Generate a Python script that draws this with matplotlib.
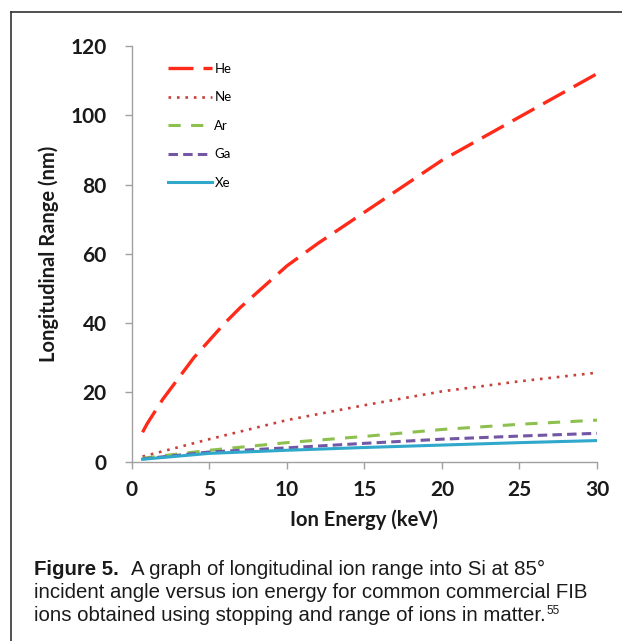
import matplotlib
matplotlib.use("Agg")
import matplotlib.pyplot as plt
from matplotlib.lines import Line2D

# Data
he_x = [0.7, 1, 2, 3, 4, 5, 6, 7, 8, 9, 10, 12, 14, 16, 18, 20, 22, 24, 26, 28, 30]
he_y = [8.5, 11, 18, 24, 30, 35, 40, 44.5, 48.5, 52.5, 56.5, 63, 69, 75, 81, 87, 92, 97, 102, 107, 112]
ne_x = [0.7, 2, 5, 10, 15, 20, 25, 30]
ne_y = [1.5, 3.0, 6.5, 12.0, 16.3, 20.3, 23.2, 25.7]
ar_x = [0.7, 5, 10, 15, 20, 25, 30]
ar_y = [1.0, 3.3, 5.5, 7.3, 9.3, 10.8, 12.0]
ga_x = [0.7, 5, 10, 15, 20, 25, 30]
ga_y = [0.8, 2.8, 4.0, 5.3, 6.5, 7.4, 8.2]
xe_x = [0.7, 5, 10, 15, 20, 25, 30]
xe_y = [0.7, 2.4, 3.3, 4.1, 4.8, 5.5, 6.1]
labels = ["He", "Ne", "Ar", "Ga", "Xe"]
x_ticks = [0, 5, 10, 15, 20, 25, 30]
y_ticks = [0, 20, 40, 60, 80, 100, 120]

W, H = 622, 641
fig = plt.figure(figsize=(W / 100, H / 100), dpi=100)
ax = fig.add_axes([131.7 / W, 1 - 461.7 / H, (597 - 131.7) / W, (461.7 - 46) / H])

ax.plot(he_x, he_y, color="#ff2a1a", lw=2.4, dashes=(7.5, 3), label=labels[0])
ax.plot(ne_x, ne_y, color="#c8403a", lw=1.9, dashes=(1, 2.2), label=labels[1])
ax.plot(ar_x, ar_y, color="#8dc04f", lw=2.2, dashes=(4, 3.4), label=labels[2])
ax.plot(ga_x, ga_y, color="#7357a4", lw=2.2, dashes=(3.1, 1.7), label=labels[3])
ax.plot(xe_x, xe_y, color="#2fa8cc", lw=2.2, label=labels[4])

ax.set_xlim(0, 30)
ax.set_ylim(0, 120)
ax.set_xticks(x_ticks)
ax.set_yticks(y_ticks)
for s in ["top", "right"]:
    ax.spines[s].set_visible(False)
for s in ["left", "bottom"]:
    ax.spines[s].set_color("#a0a0a0")
    ax.spines[s].set_linewidth(1.0)
ax.tick_params(axis="both", colors="#a0a0a0", length=5, width=1.0, labelcolor="#1a1a1a",
               labelsize=15)
ax.tick_params(axis="y", pad=13)
ax.tick_params(axis="x", pad=8)
for lab in ax.get_xticklabels() + ax.get_yticklabels():
    lab.set_fontweight("bold")
    lab.set_family("Lato")

ax.set_xlabel("Ion Energy (keV)", fontsize=14.5, fontweight="bold", family="Lato",
              color="#1a1a1a", labelpad=7)
ax.set_ylabel("Longitudinal Range (nm)", fontsize=14.5, fontweight="bold", family="Lato",
              color="#1a1a1a", labelpad=8)

leg = ax.legend(loc="upper left", bbox_to_anchor=(0.053, 0.988), frameon=False,
                handlelength=3.3, labelspacing=1.25, handletextpad=0.2,
                prop={"family": "Lato", "size": 9.5})

# Frame lines of the figure box
fig.add_artist(Line2D([11 / W, 1.0], [1 - 12 / H, 1 - 12 / H], color="#333333", lw=1.2))
fig.add_artist(Line2D([11 / W, 11 / W], [0, 1 - 12 / H], color="#333333", lw=1.2))

# Caption
cap_fs = 14.7
fam = "Liberation Sans"
x0 = 34 / W
baselines = [575, 598, 621]
fig.canvas.draw()
r = fig.canvas.get_renderer()
t1 = fig.text(x0, 1 - baselines[0] / H, "Figure 5.", fontsize=cap_fs, fontweight="bold",
              family=fam, va="baseline", color="#1a1a1a")
bb = t1.get_window_extent(r)
fig.text(bb.x1 / W + 12 / W, 1 - baselines[0] / H,
         "A graph of longitudinal ion range into Si at 85°",
         fontsize=cap_fs, family=fam, va="baseline", color="#1a1a1a")
fig.text(x0, 1 - baselines[1] / H,
         "incident angle versus ion energy for common commercial FIB",
         fontsize=cap_fs, family=fam, va="baseline", color="#1a1a1a")
t3 = fig.text(x0, 1 - baselines[2] / H,
              "ions obtained using stopping and range of ions in matter.",
              fontsize=cap_fs, family=fam, va="baseline", color="#1a1a1a")
bb3 = t3.get_window_extent(r)
fig.text(bb3.x1 / W + 1 / W, 1 - (baselines[2] - 7) / H, "55", fontsize=8.5, family=fam,
         va="baseline", color="#1a1a1a")

fig.savefig("out.png", dpi=100)
